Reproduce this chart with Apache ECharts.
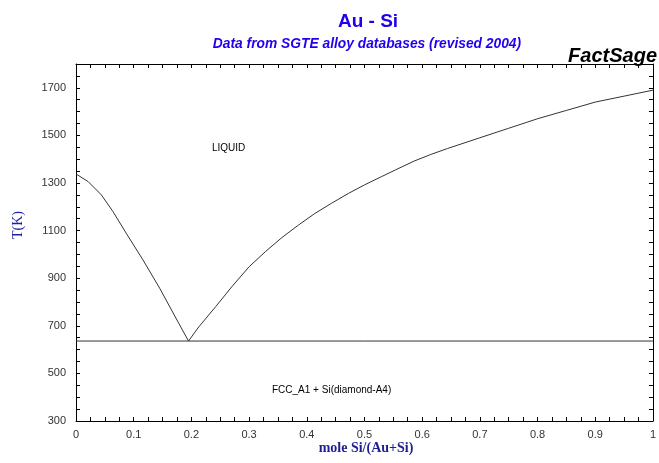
<!DOCTYPE html>
<html><head><meta charset="utf-8">
<script src="https://cdn.jsdelivr.net/npm/echarts@6/dist/echarts.min.js"></script>
<style>html,body{margin:0;padding:0;background:#fff}#c{width:659px;height:463px}</style>
</head><body><div id="c"></div>
<script>
// Liquidus (Au-rich side, down to eutectic, then Si-rich side up to Si melting point)
const liquidusX = [0, 0.021, 0.044, 0.064, 0.087, 0.116, 0.145, 0.178, 0.195,
  0.213, 0.242, 0.270, 0.300, 0.328, 0.357, 0.386, 0.414, 0.443, 0.472, 0.500,
  0.529, 0.558, 0.586, 0.615, 0.644, 0.70, 0.75, 0.80, 0.85, 0.90, 0.95, 1.0];
const liquidusT = [1338, 1306, 1250, 1180, 1089, 977, 858, 711, 636,
  696, 780, 864, 948, 1011, 1071, 1124, 1172, 1215, 1256, 1292,
  1326, 1360, 1392, 1420, 1445, 1490, 1530, 1570, 1605, 1640, 1665, 1690];
// Eutectic isotherm
const eutecticX = [0, 1];
const eutecticT = [636, 636];
const yTickLabels = [300, 500, 700, 900, 1100, 1300, 1500, 1700];
const xTickLabels = [0, 0.1, 0.2, 0.3, 0.4, 0.5, 0.6, 0.7, 0.8, 0.9, 1];

const chart = echarts.init(document.getElementById('c'), null, {renderer: 'canvas'});
const axisLine = {show: true, onZero: false, lineStyle: {color: '#000', width: 1}};
const tickStyle = {color: '#000', width: 1};
const xFmt = v => {
  const hit = xTickLabels.find(t => Math.abs(t - v) < 1e-6);
  return hit === undefined ? '' : String(hit);
};
const yFmt = v => yTickLabels.indexOf(Math.round(v)) >= 0 ? String(Math.round(v)) : '';
const option = {
  animation: false,
  grid: {left: 76, right: 3, top: 64, bottom: 42},
  title: [
    {text: 'Au - Si', left: 363, top: 7, textAlign: 'center',
     textStyle: {fontFamily: 'Liberation Sans', fontSize: 19, fontWeight: 'bold', color: '#2200ee'}},
    {text: 'Data from SGTE alloy databases (revised 2004)', left: 362, top: 32, textAlign: 'center',
     textStyle: {fontFamily: 'Liberation Sans', fontSize: 13.8, fontWeight: 'bold', fontStyle: 'italic', color: '#2200ee'}},
    {text: 'FactSage', right: -3, top: 41,
     textStyle: {fontFamily: 'Liberation Sans', fontSize: 20, fontWeight: 'bold', fontStyle: 'italic', color: '#000'}}
  ],
  xAxis: [
    {type: 'value', min: 0, max: 1, interval: 0.025, position: 'bottom',
     axisLine: axisLine, splitLine: {show: false},
     axisTick: {show: true, inside: true, length: 4, lineStyle: tickStyle},
     axisLabel: {margin: 8, fontFamily: 'Liberation Sans', fontSize: 11, color: '#333', formatter: xFmt}},
    {type: 'value', min: 0, max: 1, interval: 0.025, position: 'top',
     axisLine: axisLine, splitLine: {show: false},
     axisTick: {show: true, inside: true, length: 4, lineStyle: tickStyle},
     axisLabel: {show: false}}
  ],
  yAxis: [
    {type: 'value', min: 300, max: 1800, interval: 50, position: 'left',
     axisLine: axisLine, splitLine: {show: false},
     axisTick: {show: true, inside: true, length: 4, lineStyle: tickStyle},
     axisLabel: {margin: 10, fontFamily: 'Liberation Sans', fontSize: 11, color: '#333', formatter: yFmt}},
    {type: 'value', min: 300, max: 1800, interval: 50, position: 'right',
     axisLine: axisLine, splitLine: {show: false},
     axisTick: {show: true, inside: true, length: 4, lineStyle: tickStyle},
     axisLabel: {show: false}}
  ],
  series: [
    {type: 'line', xAxisIndex: 0, yAxisIndex: 0, showSymbol: false, silent: true,
     lineStyle: {color: '#333', width: 1},
     data: liquidusX.map((x, i) => [x, liquidusT[i]])},
    {type: 'line', xAxisIndex: 0, yAxisIndex: 0, showSymbol: false, silent: true,
     lineStyle: {color: '#333', width: 1},
     data: eutecticX.map((x, i) => [x, eutecticT[i]])}
  ],
  graphic: [
    {type: 'text', left: 212, top: 143,
     style: {text: 'LIQUID', font: '10px "Liberation Sans"', fill: '#000'}},
    {type: 'text', left: 272, top: 385,
     style: {text: 'FCC_A1 + Si(diamond-A4)', font: '10px "Liberation Sans"', fill: '#000'}},
    {type: 'text', x: 18, y: 225, rotation: Math.PI / 2, originX: 0, originY: 0,
     style: {text: 'T(K)', font: '14px "Liberation Serif"', fill: '#2222a0', align: 'center', verticalAlign: 'middle'}},
    {type: 'text', x: 366, y: 448,
     style: {text: 'mole Si/(Au+Si)', font: 'bold 14px "Liberation Serif"', fill: '#1f1f8f', align: 'center', verticalAlign: 'middle'}}
  ]
};
chart.setOption(option);
</script></body></html>
